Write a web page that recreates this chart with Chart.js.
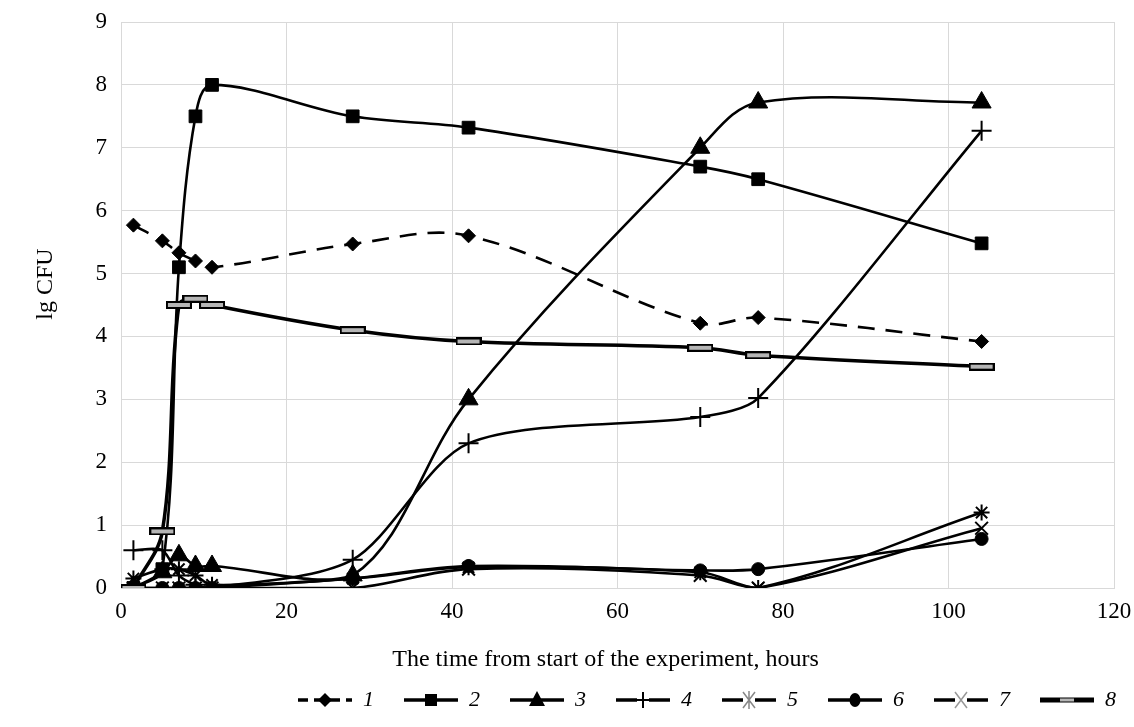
<!DOCTYPE html>
<html>
<head>
<meta charset="utf-8">
<script src="https://cdn.jsdelivr.net/npm/chart.js@4/dist/chart.umd.min.js"></script>
<style>
  html, body { margin: 0; padding: 0; background: #fff; }
  #wrap { width: 1134px; height: 727px; position: relative; }
</style>
</head>
<body>
<div id="wrap"><canvas id="c" width="1134" height="727"></canvas></div>
<script>
// ---- data ----
const hours = [1.5, 5, 7, 9, 11, 28, 42, 70, 77, 104];
const seriesNames = ['1', '2', '3', '4', '5', '6', '7', '8'];
const s1 = [5.77, 5.52, 5.33, 5.2, 5.1, 5.47, 5.6, 4.21, 4.3, 3.92];
const s2 = [0, 0.3, 5.1, 7.5, 8.0, 7.5, 7.32, 6.7, 6.5, 5.48];
const s3 = [0, 0.25, 0.52, 0.35, 0.35, 0.2, 3.0, 7.0, 7.72, 7.72];
const s4 = [0.6, 0.6, 0.2, 0.05, 0, 0.45, 2.3, 2.72, 3.02, 7.27];
const s5 = [0.15, 0.3, 0.3, 0.2, 0.05, 0.15, 0.33, 0.25, 0, 1.2];
const s6 = [0, 0, 0, 0, 0, 0.15, 0.35, 0.28, 0.3, 0.78];
const s7 = [0, 0, 0, 0, 0, 0, 0.3, 0.2, 0, 0.95];
const s8 = [0, 0.9, 4.5, 4.6, 4.5, 4.1, 3.92, 3.82, 3.7, 3.52];
const xTicks = [0, 20, 40, 60, 80, 100, 120];
const yTicks = [0, 1, 2, 3, 4, 5, 6, 7, 8, 9];

const allSeries = [s1, s2, s3, s4, s5, s6, s7, s8];
const toPts = arr => arr.map((v, i) => ({x: hours[i], y: v}));

// ---- marker for series 8 ----
function makeBarMarker() {
  const c = document.createElement('canvas');
  c.width = 26; c.height = 8;
  const g = c.getContext('2d');
  g.fillStyle = '#000'; g.fillRect(0, 0, 26, 8);
  g.fillStyle = '#b5b5b5'; g.fillRect(2, 2, 22, 4);
  return c;
}
const barMarker = makeBarMarker();

// ---- legend symbols ----
const styles = ['rectRot', 'rect', 'triangle', 'cross', 'star', 'circle', 'crossRot', 'bar'];
function makeLegendSymbol(i) {
  const W = 54, H = 22;
  const c = document.createElement('canvas');
  c.width = W; c.height = H;
  const g = c.getContext('2d');
  const cy = H / 2, cx = W / 2;
  g.strokeStyle = '#000';
  g.lineWidth = (i === 7) ? 5 : 3.5;
  if (i === 0) g.setLineDash([10, 6]);
  g.beginPath(); g.moveTo(0, cy); g.lineTo(W, cy); g.stroke();
  g.setLineDash([]);
  g.fillStyle = '#000';
  const st = styles[i];
  if (st === 'rectRot') {
    g.beginPath(); g.moveTo(cx, cy - 7); g.lineTo(cx + 7, cy); g.lineTo(cx, cy + 7); g.lineTo(cx - 7, cy); g.closePath(); g.fill();
  } else if (st === 'rect') {
    g.fillRect(cx - 6, cy - 6, 12, 12);
  } else if (st === 'triangle') {
    g.beginPath(); g.moveTo(cx, cy - 9); g.lineTo(cx + 8, cy + 6); g.lineTo(cx - 8, cy + 6); g.closePath(); g.fill();
  } else if (st === 'cross') {
    g.clearRect(cx - 6, cy - 3, 12, 6);
    g.lineWidth = 2;
    g.beginPath(); g.moveTo(cx - 7, cy); g.lineTo(cx + 7, cy); g.moveTo(cx, cy - 8); g.lineTo(cx, cy + 8); g.stroke();
  } else if (st === 'star') {
    g.clearRect(cx - 6, cy - 3, 12, 6);
    g.strokeStyle = '#888'; g.lineWidth = 1.5;
    g.beginPath();
    g.moveTo(cx - 6, cy - 8); g.lineTo(cx + 6, cy + 8);
    g.moveTo(cx + 6, cy - 8); g.lineTo(cx - 6, cy + 8);
    g.moveTo(cx, cy - 9); g.lineTo(cx, cy + 9);
    g.stroke();
  } else if (st === 'circle') {
    g.beginPath(); g.ellipse(cx, cy, 5.5, 7, 0, 0, Math.PI * 2); g.fill();
  } else if (st === 'crossRot') {
    g.clearRect(cx - 6, cy - 3, 12, 6);
    g.strokeStyle = '#999'; g.lineWidth = 1.5;
    g.beginPath();
    g.moveTo(cx - 6, cy - 8); g.lineTo(cx + 6, cy + 8);
    g.moveTo(cx + 6, cy - 8); g.lineTo(cx - 6, cy + 8);
    g.stroke();
  } else if (st === 'bar') {
    g.fillStyle = '#b5b5b5'; g.fillRect(cx - 7, cy - 1.5, 14, 3);
  }
  return c;
}
const legendSymbols = seriesNames.map((_, i) => makeLegendSymbol(i));

const pointCfg = [
  {pointStyle: 'rectRot', pointRadius: 7},
  {pointStyle: 'rect', pointRadius: 9},
  {pointStyle: 'triangle', pointRadius: 11},
  {pointStyle: 'cross', pointRadius: 10},
  {pointStyle: 'star', pointRadius: 8},
  {pointStyle: 'circle', pointRadius: 6.5},
  {pointStyle: 'crossRot', pointRadius: 9},
  {pointStyle: barMarker, pointRadius: 10}
];

const datasets = allSeries.map((arr, i) => ({
  label: seriesNames[i],
  data: toPts(arr),
  borderColor: '#000',
  backgroundColor: '#000',
  borderWidth: i === 7 ? 3.5 : 2.6,
  borderDash: i === 0 ? [17, 11] : [],
  tension: i === 3 ? 0.28 : 0.35,
  pointBorderColor: '#000',
  pointBackgroundColor: '#000',
  pointBorderWidth: (i === 3 || i === 4 || i === 6) ? 2 : 1,
  pointHoverRadius: pointCfg[i].pointRadius,
  order: 8 - i,
  ...pointCfg[i]
}));

const serif = "'Liberation Serif', 'Times New Roman', serif";

// place the legend row like the reference (starts at x=298, text centred near y=700)
const legendPlacer = {
  id: 'legendPlacer',
  afterLayout(chart) {
    const lg = chart.legend;
    if (!lg || !lg.lineWidths) return;
    lg.right = 298 + lg.lineWidths[0];
    lg.top -= 6; lg.bottom -= 6;
  }
};

new Chart(document.getElementById('c'), {
  type: 'line',
  data: { datasets },
  plugins: [legendPlacer],
  options: {
    responsive: false,
    animation: false,
    events: [],
    layout: { padding: { left: 0, right: 20, top: 22, bottom: 0 } },
    scales: {
      x: {
        type: 'linear',
        min: 0, max: 120,
        afterBuildTicks: s => { s.ticks = xTicks.map(v => ({value: v})); },
        afterFit: s => { s.height = 77; s.paddingLeft = 0; s.paddingRight = 0; },
        grid: { color: '#d9d9d9', lineWidth: 1, drawTicks: false },
        border: { color: '#d9d9d9' },
        ticks: { color: '#000', padding: 10, font: { family: serif, size: 23 } },
        title: { display: true, text: 'The time from start of the experiment, hours\u00a0\u00a0\u00a0\u00a0', color: '#000',
                 font: { family: serif, size: 24 }, padding: { top: 0, bottom: -9 } }
      },
      y: {
        type: 'linear',
        min: 0, max: 9,
        afterBuildTicks: s => { s.ticks = yTicks.map(v => ({value: v})); },
        afterFit: s => { s.width = 121; s.paddingTop = 0; s.paddingBottom = 0; },
        grid: { color: '#d9d9d9', lineWidth: 1, drawTicks: false },
        border: { color: '#d9d9d9' },
        ticks: { color: '#000', padding: 14, font: { family: serif, size: 23 } },
        title: { display: true, text: '\u00a0\u00a0\u00a0\u00a0\u00a0\u00a0\u00a0lg CFU', color: '#000',
                 font: { family: serif, size: 24 }, padding: { top: 31, bottom: 0 } }
      }
    },
    plugins: {
      tooltip: { enabled: false },
      legend: {
        position: 'bottom',
        align: 'end',
        labels: {
          usePointStyle: true,
          pointStyleWidth: 54,
          padding: 30,
          color: '#000',
          font: { family: serif, size: 22, style: 'italic' },
          generateLabels: chart => chart.data.datasets.map((ds, i) => ({
            text: ds.label,
            pointStyle: legendSymbols[i],
            fillStyle: '#000',
            strokeStyle: '#000',
            lineWidth: 0,
            hidden: false,
            datasetIndex: i,
            fontColor: '#000'
          }))
        }
      }
    }
  }
});
</script>
</body>
</html>
